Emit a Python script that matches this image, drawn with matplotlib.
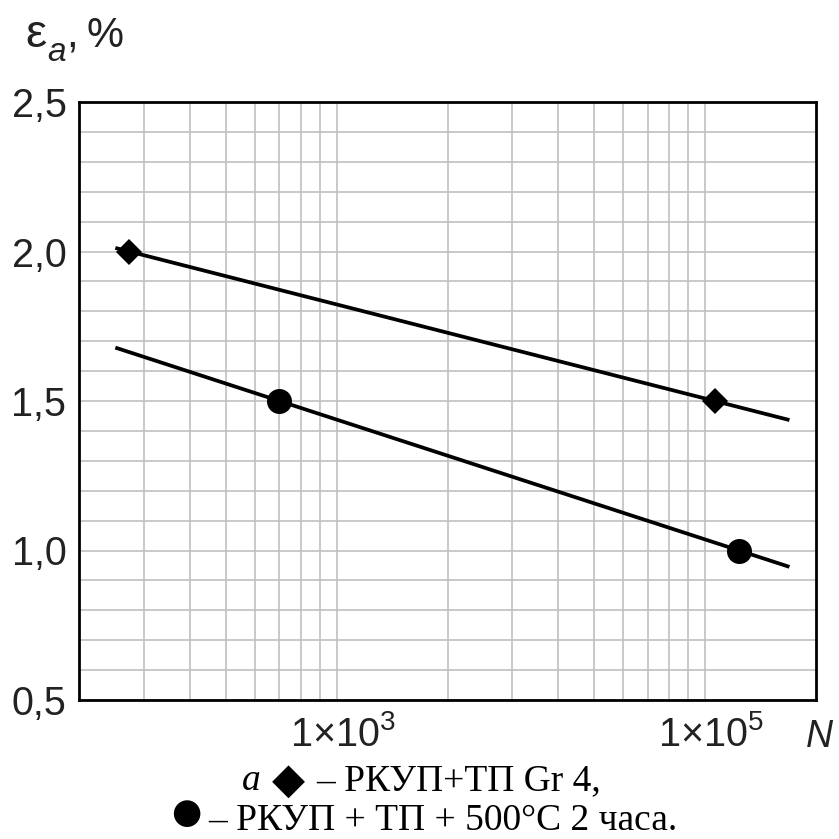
import numpy as np
import matplotlib
matplotlib.use('Agg')
import matplotlib.pyplot as plt
import matplotlib.transforms as mtrans
from matplotlib.ticker import FixedLocator, MultipleLocator, NullFormatter

plt.rcParams['mathtext.fontset'] = 'custom'
plt.rcParams['mathtext.rm'] = 'Liberation Sans'
plt.rcParams['mathtext.it'] = 'Liberation Sans:italic'
plt.rcParams['mathtext.sf'] = 'Liberation Sans'
plt.rcParams['font.family'] = ['Liberation Sans', 'DejaVu Sans']

# Данные (читаются с рисунка)
N_diamond = [75, 1.13e5]
eps_diamond = [2.0, 1.5]
N_circle = [490, 1.53e5]
eps_circle = [1.5, 1.0]
fit_N = [63, 2.87e5]          # диапазон линий аппроксимации

y_ticks = [0.5, 1.0, 1.5, 2.0, 2.5]
y_labels = ['0,5', '1,0', '1,5', '2,0', '2,5']
x_ticks = [1e3, 1e5]
x_labels = ['1×10$^{3}$', '1×10$^{5}$']

W = H = 839
fig = plt.figure(figsize=(W / 100, H / 100), dpi=100)
ax = fig.add_axes([79 / W, 139 / H, 737 / W, 598 / H])

# Линии аппроксимации в полулогарифмических координатах
def fit_line(N, eps):
    k, b = np.polyfit(np.log10(N), eps, 1)
    x = np.array(fit_N)
    return x, k * np.log10(x) + b

xd, yd = fit_line(N_diamond, eps_diamond)
xc, yc = fit_line(N_circle, eps_circle)
ax.plot(xd, yd, color='black', lw=2.7, solid_capstyle='butt', zorder=3)
ax.plot(xc, yc, color='black', lw=2.7, solid_capstyle='butt', zorder=3)
ax.plot(N_diamond, eps_diamond, 'D', color='black', ms=13, mew=0, zorder=4)
ax.plot(N_circle, eps_circle, 'o', color='black', ms=18, mew=0, zorder=4)

ax.set_xscale('log')
ax.set_xlim(40, 4e5)
ax.set_ylim(0.5, 2.5)

# Сетка как в Mathcad: линии на k^2 * 10^n
sq = np.arange(2, 10) ** 2
minor_x = [m * 10.0 ** e for e in (1, 3) for m in sq]
ax.xaxis.set_major_locator(FixedLocator(x_ticks))
ax.xaxis.set_minor_locator(FixedLocator(minor_x))
ax.xaxis.set_minor_formatter(NullFormatter())
ax.set_xticklabels(x_labels)
ax.yaxis.set_major_locator(FixedLocator(y_ticks))
ax.yaxis.set_minor_locator(MultipleLocator(0.1))
ax.set_yticklabels(y_labels)

ax.grid(which='both', color='#c0c0c0', lw=1.2)
ax.set_axisbelow(True)
ax.tick_params(which='both', length=0, labelsize=28.5, colors='#222222')
ax.tick_params(axis='y', pad=9)
ax.tick_params(axis='x', pad=11)
shift = mtrans.ScaledTranslation(6 / 100, 0, fig.dpi_scale_trans)
for lab in ax.get_xticklabels():
    lab.set_transform(lab.get_transform() + shift)
for s in ax.spines.values():
    s.set_linewidth(2.0)
    s.set_color('black')

# Подписи осей
fs_lab = 30
fig.text(25 / W, 1 - 47 / H, 'ε', fontsize=34, color='#222222', va='baseline')
fig.text(47 / W, 1 - 61 / H, 'a', fontsize=24, style='italic', color='#222222', va='baseline')
fig.text(66 / W, 1 - 47 / H, ',', fontsize=fs_lab, color='#222222', va='baseline')
fig.text(87 / W, 1 - 47 / H, '%', fontsize=fs_lab, color='#222222', va='baseline')
fig.text(806 / W, 1 - 747 / H, 'N', fontsize=27, style='italic',
         color='#222222', va='baseline', ha='left')

# Подпись под графиком
serif = ['Liberation Serif', 'DejaVu Sans']
fs_cap = 27
fig.text(261 / W, 1 - 790 / H, 'a', fontsize=fs_cap, style='italic',
         family=serif, va='baseline', ha='right')
fig.text(288 / W, 1 - 781 / H, '◆', fontsize=31, family='DejaVu Sans',
         va='center', ha='center')
fig.text(316 / W, 1 - 790 / H, '– РКУП+ТП Gr 4,', fontsize=fs_cap,
         family=serif, va='baseline', ha='left')
fig.text(186 / W, 1 - 813 / H, '●', fontsize=25, family='DejaVu Sans',
         va='center', ha='center')
fig.text(208 / W, 1 - 830 / H, '– РКУП + ТП + 500°C 2 часа.', fontsize=fs_cap,
         family=serif, va='baseline', ha='left')

fig.savefig('out.png', dpi=100)
